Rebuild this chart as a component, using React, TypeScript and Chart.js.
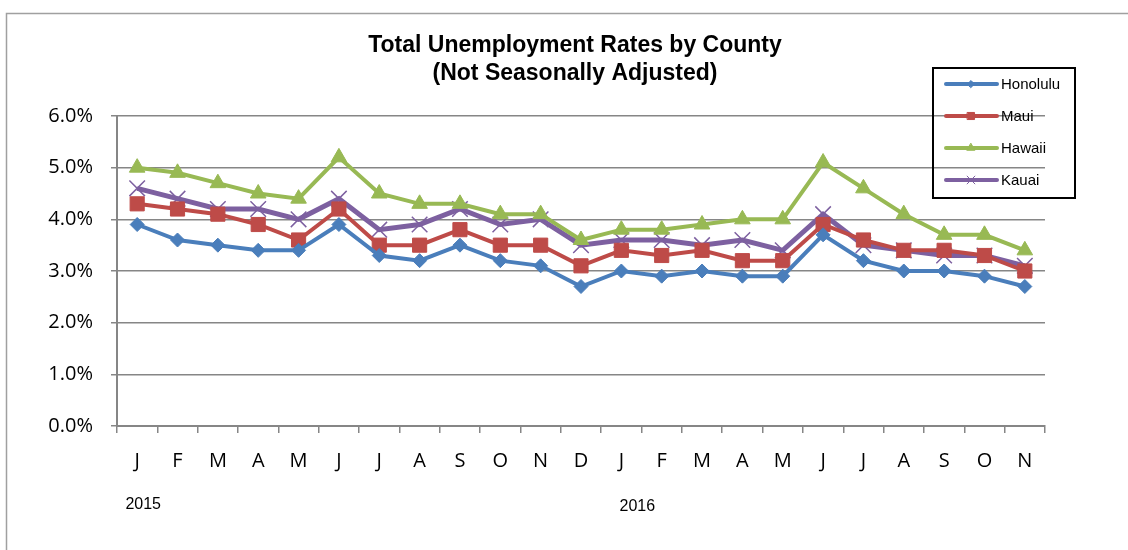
import React, { useEffect, useRef } from "react";
import { Chart, registerables } from "chart.js";
import { drawPoint } from "chart.js/helpers";

Chart.register(...registerables);

const TITLE_LINES = ["Total Unemployment Rates by County", "(Not Seasonally Adjusted)"];
const MONTHS = ["J", "F", "M", "A", "M", "J", "J", "A", "S", "O", "N", "D", "J", "F", "M", "A", "M", "J", "J", "A", "S", "O", "N"];
const YEARS = [{ label: "2015", index: 0 }, { label: "2016", index: 12 }];
const HONOLULU = [3.9, 3.6, 3.5, 3.4, 3.4, 3.9, 3.3, 3.2, 3.5, 3.2, 3.1, 2.7, 3.0, 2.9, 3.0, 2.9, 2.9, 3.7, 3.2, 3.0, 3.0, 2.9, 2.7];
const MAUI = [4.3, 4.2, 4.1, 3.9, 3.6, 4.2, 3.5, 3.5, 3.8, 3.5, 3.5, 3.1, 3.4, 3.3, 3.4, 3.2, 3.2, 3.9, 3.6, 3.4, 3.4, 3.3, 3.0];
const HAWAII = [5.0, 4.9, 4.7, 4.5, 4.4, 5.2, 4.5, 4.3, 4.3, 4.1, 4.1, 3.6, 3.8, 3.8, 3.9, 4.0, 4.0, 5.1, 4.6, 4.1, 3.7, 3.7, 3.4];
const KAUAI = [4.6, 4.4, 4.2, 4.2, 4.0, 4.4, 3.8, 3.9, 4.2, 3.9, 4.0, 3.5, 3.6, 3.6, 3.5, 3.6, 3.4, 4.1, 3.5, 3.4, 3.3, 3.3, 3.1];

const FONT = "'Liberation Sans', Arial, sans-serif";
const TICK_FONT = "'Open Sans', 'Liberation Sans', sans-serif";

const decorPlugin = {
  id: "decor",
  beforeDraw(chart: any) {
    const ctx = chart.ctx;
    ctx.save();
    ctx.fillStyle = "#ffffff";
    ctx.fillRect(0, 0, chart.width, chart.height);
    ctx.strokeStyle = "#a0a0a0";
    ctx.lineWidth = 1.5;
    ctx.strokeRect(6.5, 13.5, chart.width + 20, chart.height + 20);
    ctx.restore();
  },
  afterDraw(chart: any) {
    const ctx = chart.ctx;
    ctx.save();
    ctx.fillStyle = "#000";
    ctx.textAlign = "center";
    ctx.textBaseline = "middle";
    ctx.font = `bold 23px ${FONT}`;
    TITLE_LINES.forEach((t, i) => ctx.fillText(t, 575, 46 + i * 28));
    const xs = chart.scales.x;
    ctx.font = `16px ${FONT}`;
    ctx.textAlign = "center";
    YEARS.forEach((y, i) => {
      const px = xs.getPixelForValue(y.index);
      ctx.fillText(y.label, px + 6 + i * 10, 505 + i * 2);
    });
    const lx = 933, ly = 68, lw = 142, lh = 130;
    ctx.strokeStyle = "#000";
    ctx.lineWidth = 2;
    ctx.strokeRect(lx, ly, lw, lh);
    chart.data.datasets.forEach((ds: any, i: number) => {
      const cy = ly + 16 + i * 32;
      ctx.strokeStyle = ds.borderColor;
      ctx.lineWidth = 4;
      ctx.lineCap = "round";
      ctx.beginPath();
      ctx.moveTo(lx + 13, cy);
      ctx.lineTo(lx + 64, cy);
      ctx.stroke();
      ctx.fillStyle = ds.pointBackgroundColor;
      ctx.strokeStyle = ds.pointBorderColor;
      ctx.lineWidth = 1;
      drawPoint(ctx, { pointStyle: ds.pointStyle, radius: ds.pointRadius * 0.5, rotation: 0, borderWidth: 1 }, lx + 38, cy);
      ctx.fillStyle = "#000";
      ctx.font = `15px ${FONT}`;
      ctx.textAlign = "left";
      ctx.textBaseline = "middle";
      ctx.fillText(ds.label, lx + 68, cy + 1);
    });
    ctx.restore();
  },
};

function mk(label: string, data: number[], color: string, style: string, r: number, bw = 4) {
  return {
    label,
    data,
    borderColor: color,
    backgroundColor: color,
    pointBackgroundColor: color,
    pointBorderColor: color,
    pointStyle: style,
    pointRadius: r,
    pointBorderWidth: style === "crossRot" ? 1.5 : 1,
    borderWidth: bw,
    tension: 0,
    fill: false,
  };
}

export default function App() {
  const ref = useRef<HTMLCanvasElement>(null);
  useEffect(() => {
    if (!ref.current) return;
    const chart = new Chart(ref.current, {
      type: "line",
      data: {
        labels: MONTHS,
        datasets: [
          mk("Honolulu", HONOLULU, "#4A7EBB", "rectRot", 7),
          mk("Maui", MAUI, "#BE4B48", "rect", 10),
          mk("Hawaii", HAWAII, "#98B954", "triangle", 9),
          mk("Kauai", KAUAI, "#7D60A0", "crossRot", 11, 5),
        ],
      } as any,
      options: {
        animation: false,
        responsive: false,
        devicePixelRatio: 1,
        layout: { padding: { left: 0, top: 116, right: 83, bottom: 0 } },
        plugins: { legend: { display: false }, title: { display: false }, tooltip: { enabled: false } },
        scales: {
          x: {
            type: "category",
            offset: true,
            afterFit: (s: any) => { s.height = 124; },
            grid: { offset: true, drawOnChartArea: false, color: "#868686", lineWidth: 1.5, tickLength: 7 },
            border: { color: "#868686", width: 2 },
            ticks: { color: "#000", font: { family: TICK_FONT, size: 20 }, padding: 16, maxRotation: 0, autoSkip: false },
          },
          y: {
            min: 0,
            max: 6,
            afterFit: (s: any) => { s.width = 117; },
            grid: { color: "#868686", lineWidth: 1.5, tickLength: 6 },
            border: { color: "#868686", width: 2 },
            ticks: {
              stepSize: 1,
              color: "#000",
              font: { family: TICK_FONT, size: 20 },
              padding: 18,
              callback: (v: any) => Number(v).toFixed(1) + "%",
            },
          },
        },
      } as any,
      plugins: [decorPlugin],
    });
    return () => chart.destroy();
  }, []);
  return (
    <div style={{ position: "fixed", left: 0, top: 0, width: 1128, height: 550, background: "#fff" }}>
      <canvas ref={ref} width={1128} height={550} style={{ width: 1128, height: 550, display: "block" }} />
    </div>
  );
}
